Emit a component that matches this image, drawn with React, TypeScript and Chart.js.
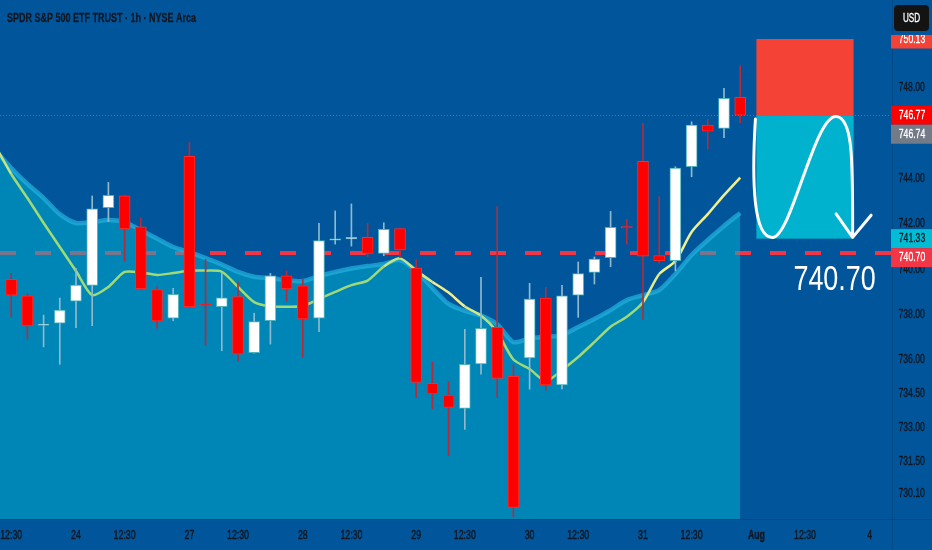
import React, { useEffect, useRef } from "react";
import { Chart, registerables } from "chart.js";

Chart.register(...registerables);

const W = 932;
const H = 550;
const BG = "#01569b";
const TEXT_DARK = "#131722";
const FONT = '"Liberation Sans", Arial, sans-serif';

// ---- data ----
const xTickIndex = [0, 4, 7, 11, 14, 18, 21, 25, 28, 32, 35, 39, 42, 46, 49, 53];
const xTickLabels = ["12:30", "24", "12:30", "27", "12:30", "28", "12:30", "29", "12:30", "30", "12:30", "31", "12:30", "Aug", "12:30", "4"];
const yTickValues = [730.1, 731.5, 733.0, 734.5, 736.0, 738.0, 740.0, 742.0, 744.0, 748.0];

const opens = [739.54, 738.81, 737.5, 737.6, 738.57, 739.27, 742.69, 743.22, 741.85, 739.08, 737.82, 744.96, 738.4, 738.33, 738.77, 736.3, 737.71, 739.69, 739.25, 737.82, 741.26, 741.32, 741.39, 740.68, 741.77, 740.03, 734.95, 734.43, 733.85, 735.81, 737.42, 735.26, 736.07, 738.71, 734.88, 738.84, 739.84, 740.49, 741.82, 744.74, 740.58, 740.36, 744.5, 746.34, 746.19, 747.56];
const highs = [739.8, 738.9, 737.96, 738.71, 740.02, 743.21, 743.81, 743.25, 742.23, 739.21, 739.14, 745.58, 740.42, 739.8, 739.39, 738.04, 739.8, 739.91, 739.54, 742.0, 742.55, 742.86, 742.0, 742.03, 741.8, 740.4, 735.9, 735.02, 737.33, 739.62, 742.74, 735.76, 739.36, 739.18, 739.27, 740.3, 740.52, 742.53, 742.18, 746.41, 743.18, 744.5, 746.48, 746.59, 747.96, 748.95];
const lows = [737.86, 736.9, 736.56, 735.79, 737.4, 737.49, 742.08, 740.34, 739.08, 737.38, 737.71, 738.3, 736.64, 736.39, 735.92, 736.28, 736.68, 738.58, 736.1, 737.23, 741.09, 741.0, 740.53, 740.58, 740.49, 734.32, 733.83, 731.76, 732.92, 735.36, 734.33, 729.07, 734.69, 734.65, 734.7, 737.86, 739.33, 740.09, 741.09, 737.77, 740.24, 739.91, 744.06, 745.28, 745.78, 746.44];
const closes = [738.84, 737.48, 737.53, 738.18, 739.28, 742.64, 743.24, 741.77, 739.12, 737.7, 738.87, 738.33, 738.38, 738.72, 736.24, 737.67, 739.69, 739.12, 737.79, 741.24, 741.28, 741.34, 740.68, 741.74, 740.83, 734.99, 734.48, 733.89, 735.79, 737.38, 735.17, 729.48, 738.67, 734.88, 738.81, 739.79, 740.43, 741.83, 741.8, 740.56, 740.36, 744.44, 746.34, 746.07, 747.52, 746.77];

// EMAs start one bar before the first visible candle (index -1)
const emaStartIndex = -1;
const emaFast = [745.45, 744.18, 743.12, 742.02, 740.96, 739.9, 738.84, 739.2, 739.86, 739.84, 739.73, 739.81, 739.91, 739.92, 739.87, 739.2, 738.53, 738.34, 738.33, 738.36, 738.67, 738.98, 739.28, 739.48, 740.1, 740.46, 739.92, 739.42, 738.95, 738.34, 737.94, 737.21, 736.0, 735.58, 735.05, 735.54, 736.11, 736.77, 737.45, 737.89, 738.53, 739.77, 740.34, 741.62, 742.41, 743.25, 744.02];
const emaSlow = [745.24, 744.44, 743.74, 743.12, 742.41, 742.02, 742.06, 742.15, 742.06, 741.71, 741.33, 740.96, 740.74, 740.47, 740.19, 739.86, 739.65, 739.59, 739.5, 739.46, 739.68, 739.86, 740.01, 740.12, 740.21, 740.39, 739.9, 739.15, 738.45, 738.14, 737.94, 737.56, 736.77, 736.93, 737.0, 737.08, 737.43, 737.79, 738.18, 738.62, 738.84, 739.06, 739.77, 740.61, 741.27, 741.89, 742.46];

// trade setup
const stopPrice = 750.13;
const entryPrice = 746.77;
const targetPrice = 741.33;
const levelPrice = 740.7;
const boxStartIndex = 46;
const boxEndIndex = 52;
const bigLabel = "740.70";

// right-axis price tags
const tagValues = [750.13, 746.77, 746.74, 741.33, 740.7];
const tagBg = ["#f44336", "#ff0000", "#737b89", "#00bcd4", "#f23645"];
const tagFg = ["#ffffff", "#ffffff", "#ffffff", TEXT_DARK, "#ffffff"];

const titleText = "SPDR S&P 500 ETF TRUST · 1h · NYSE Arca";
const currencyText = "USD";

// scale ranges
const xMin = -0.691;
const xMax = 54.37;
const yMin = 728.97;
const yMax = 751.85;

function mix(a: number[], b: number[], t: number) {
  const c = a.map((v, i) => Math.round(v + (b[i] - v) * t));
  return `rgb(${c[0]},${c[1]},${c[2]})`;
}
const GREEN = [160, 218, 118];
const YELLOW = [242, 240, 140];

function squeezedText(
  ctx: CanvasRenderingContext2D,
  text: string,
  x: number,
  y: number,
  align: CanvasTextAlign,
  sx: number,
  stroke = 0
) {
  ctx.save();
  ctx.translate(x, y);
  ctx.scale(sx, 1);
  ctx.textAlign = align;
  ctx.fillText(text, 0, 0);
  if (stroke > 0) {
    ctx.strokeStyle = ctx.fillStyle as string;
    ctx.lineWidth = stroke;
    ctx.strokeText(text, 0, 0);
  }
  ctx.restore();
}

const overlay = {
  id: "overlay",
  beforeDraw(chart: any) {
    const { ctx, width, height } = chart;
    ctx.save();
    ctx.fillStyle = BG;
    ctx.fillRect(0, 0, width, height);
    ctx.restore();
  },
  beforeDatasetsDraw(chart: any) {
    const { ctx, chartArea: a, scales } = chart;
    const y = scales.y;
    ctx.save();
    ctx.beginPath();
    ctx.rect(a.left, a.top, a.right - a.left, a.bottom - a.top);
    ctx.clip();
    const ly = y.getPixelForValue(levelPrice);
    ctx.strokeStyle = "#f23645";
    ctx.lineWidth = 4;
    ctx.setLineDash([16, 19]);
    ctx.beginPath();
    ctx.moveTo(a.left, ly);
    ctx.lineTo(a.right, ly);
    ctx.stroke();
    const ey = Math.round(y.getPixelForValue(entryPrice)) + 0.5;
    ctx.strokeStyle = "#d8414f";
    ctx.lineWidth = 1;
    ctx.setLineDash([1, 2]);
    ctx.beginPath();
    ctx.moveTo(a.left, ey);
    ctx.lineTo(a.right, ey);
    ctx.stroke();
    ctx.restore();
  },
  afterDatasetsDraw(chart: any) {
    const { ctx, chartArea: a, scales } = chart;
    const x = scales.x;
    const y = scales.y;
    const L = x.getPixelForValue(boxStartIndex);
    const R = x.getPixelForValue(boxEndIndex);
    const T = y.getPixelForValue(stopPrice);
    const M = y.getPixelForValue(entryPrice);
    const B = y.getPixelForValue(targetPrice);
    ctx.save();
    ctx.beginPath();
    ctx.rect(a.left, a.top, a.right - a.left, a.bottom - a.top);
    ctx.clip();
    ctx.fillStyle = "#f44336";
    ctx.fillRect(L, T, R - L, M - T);
    ctx.fillStyle = "#00b2cd";
    ctx.fillRect(L, M, R - L, B - M);

    const bw = R - L;
    const bh = B - M;
    const px = (t: number) => L + t * bw;
    const py = (t: number) => M + t * bh;
    ctx.strokeStyle = "#ffffff";
    ctx.lineWidth = 3;
    ctx.lineCap = "round";
    ctx.lineJoin = "round";
    ctx.beginPath();
    ctx.moveTo(px(-0.01), py(0.03));
    ctx.bezierCurveTo(px(-0.05), py(0.55), px(-0.03), py(1.0), px(0.17), py(0.99));
    ctx.bezierCurveTo(px(0.36), py(0.98), px(0.6), py(0.0), px(0.82), py(0.01));
    ctx.bezierCurveTo(px(1.0), py(0.02), px(0.99), py(0.4), px(0.99), py(0.98));
    ctx.stroke();
    ctx.beginPath();
    ctx.moveTo(px(0.82), py(0.8));
    ctx.lineTo(px(0.99), py(0.99));
    ctx.lineTo(px(1.18), py(0.81));
    ctx.stroke();

    ctx.fillStyle = "#ffffff";
    ctx.font = `35px ${FONT}`;
    ctx.textBaseline = "alphabetic";
    squeezedText(ctx, bigLabel, R - 19, y.getPixelForValue(levelPrice) + 37, "center", 0.77);
    ctx.restore();
  },
  afterDraw(chart: any) {
    const { ctx, chartArea: a, scales, width, height } = chart;
    const x = scales.x;
    const y = scales.y;
    ctx.save();
    // separators
    ctx.strokeStyle = "rgba(0,0,0,0.14)";
    ctx.lineWidth = 1;
    ctx.beginPath();
    ctx.moveTo(Math.round(a.right) + 0.5, 0);
    ctx.lineTo(Math.round(a.right) + 0.5, height);
    ctx.moveTo(0, Math.round(a.bottom) + 0.5);
    ctx.lineTo(width, Math.round(a.bottom) + 0.5);
    ctx.stroke();

    // axis tick labels (from the library's ticks and scales)
    ctx.fillStyle = TEXT_DARK;
    ctx.textBaseline = "middle";
    x.ticks.forEach((t: any, i: number) => {
      const lbl = xTickLabels[i];
      ctx.font = `${lbl === "Aug" ? "bold " : ""}13.5px ${FONT}`;
      let cx = x.getPixelForValue(t.value);
      const half = (ctx.measureText(lbl).width * 0.65) / 2;
      if (cx - half < 0) cx = half;
      squeezedText(ctx, lbl, cx, a.bottom + 16.5, "center", 0.65, 0.5);
    });
    ctx.font = `12px ${FONT}`;
    y.ticks.forEach((t: any) => {
      squeezedText(ctx, Number(t.value).toFixed(2), a.right + 6.5, y.getPixelForValue(t.value) + 0.5, "left", 0.72, 0.35);
    });
    ctx.restore();

    // price tags with simple collision handling
    ctx.save();
    const th = 19;
    const items = tagValues
      .map((v, i) => ({ v, i, py: y.getPixelForValue(v) }))
      .sort((p, q) => p.py - q.py);
    let prev = -1e9;
    ctx.beginPath();
    ctx.rect(a.right - 1, 35, width - a.right + 1, height);
    ctx.clip();
    ctx.font = `12px ${FONT}`;
    ctx.textBaseline = "middle";
    for (const it of items) {
      let cy = it.py;
      if (cy - prev < th) cy = prev + th;
      prev = cy;
      ctx.fillStyle = tagBg[it.i];
      ctx.fillRect(a.right - 1, cy - th / 2, width - a.right + 1, th);
      ctx.fillStyle = tagFg[it.i];
      squeezedText(ctx, it.v.toFixed(2), (a.right + width) / 2, cy + 0.5, "center", 0.72, 0.3);
    }
    ctx.restore();

    ctx.save();
    // currency button
    ctx.fillStyle = "#131313";
    ctx.beginPath();
    (ctx as any).roundRect(894, 5, 35, 26, 4);
    ctx.fill();
    ctx.fillStyle = "#ffffff";
    ctx.font = `12px ${FONT}`;
    ctx.textBaseline = "middle";
    squeezedText(ctx, currencyText, 911.5, 18.5, "center", 0.68, 0.3);

    // title, fitted to the reference width
    ctx.fillStyle = TEXT_DARK;
    ctx.font = `bold 13px ${FONT}`;
    const tw = ctx.measureText(titleText).width;
    squeezedText(ctx, titleText, 7, 18.5, "left", 189 / tw, 0.3);
    ctx.restore();
  },
};

export default function App() {
  const ref = useRef<HTMLCanvasElement>(null);
  useEffect(() => {
    document.body.style.margin = "0";
    const canvas = ref.current!;
    const idx = opens.map((_, i) => i);
    const up = idx.map((i) => closes[i] >= opens[i]);
    const emaIdx = emaFast.map((_, k) => k + emaStartIndex);

    const chart = new Chart(canvas, {
      type: "bar",
      data: {
        datasets: [
          {
            type: "line",
            data: emaIdx.map((xv, k) => ({ x: xv, y: emaSlow[k] })),
            borderColor: "rgba(36,178,222,0.7)",
            borderWidth: 4.5,
            backgroundColor: "rgba(0,180,212,0.5)",
            fill: "start",
            pointRadius: 0,
            tension: 0.25,
            order: 5,
          } as any,
          {
            type: "line",
            data: emaIdx.map((xv, k) => ({ x: xv, y: emaFast[k] })),
            borderWidth: 2.5,
            pointRadius: 0,
            tension: 0.25,
            fill: false,
            order: 4,
            segment: {
              borderColor: (c: any) => {
                const k = c.p0DataIndex;
                const d = (emaFast[k] + emaFast[k + 1]) / 2 - (emaSlow[k] + emaSlow[k + 1]) / 2;
                const t = Math.max(0, Math.min(1, d / 0.7 + 0.5));
                return mix(GREEN, YELLOW, t);
              },
            },
          } as any,
          {
            type: "bar",
            data: idx.map((i) => ({ x: i, y: [lows[i], highs[i]] })),
            backgroundColor: idx.map((i) => (up[i] ? "#8fb9cc" : "#b52a3c")),
            borderWidth: 0,
            barThickness: 1,
            grouped: false,
            order: 3,
          } as any,
          {
            type: "bar",
            data: idx.map((i) => ({ x: i, y: [opens[i], closes[i]] })),
            backgroundColor: idx.map((i) => (up[i] ? "#ffffff" : "#ff0000")),
            borderColor: idx.map((i) => (up[i] ? "#4fb2bd" : "#ff2a2a")),
            borderWidth: 1,
            borderSkipped: false,
            barThickness: 11,
            minBarLength: 1.5,
            grouped: false,
            order: 2,
          } as any,
        ],
      },
      options: {
        responsive: false,
        animation: false,
        events: [],
        layout: { padding: 0 },
        plugins: {
          legend: { display: false },
          tooltip: { enabled: false },
          title: { display: false },
        },
        scales: {
          x: {
            type: "linear",
            min: xMin,
            max: xMax,
            offset: false,
            afterBuildTicks: (s: any) => {
              s.ticks = xTickIndex.map((v) => ({ value: v }));
            },
            afterFit: (s: any) => {
              s.height = 31;
              s.paddingLeft = 0;
              s.paddingRight = 0;
              s.paddingTop = 0;
              s.paddingBottom = 0;
            },
            ticks: { display: false, autoSkip: false, maxRotation: 0 },
            grid: { display: false, drawTicks: false },
            border: { display: false },
          },
          y: {
            type: "linear",
            position: "right",
            min: yMin,
            max: yMax,
            afterBuildTicks: (s: any) => {
              s.ticks = yTickValues.map((v) => ({ value: v }));
            },
            afterFit: (s: any) => {
              s.width = 40;
              s.paddingLeft = 0;
              s.paddingRight = 0;
              s.paddingTop = 0;
              s.paddingBottom = 0;
            },
            ticks: { display: false },
            grid: { display: false, drawTicks: false },
            border: { display: false },
          },
        },
      } as any,
      plugins: [overlay],
    });
    return () => chart.destroy();
  }, []);

  return (
    <div style={{ position: "fixed", left: 0, top: 0, width: W, height: H, background: BG }}>
      <canvas ref={ref} width={W} height={H} style={{ display: "block", width: W, height: H }} />
    </div>
  );
}
